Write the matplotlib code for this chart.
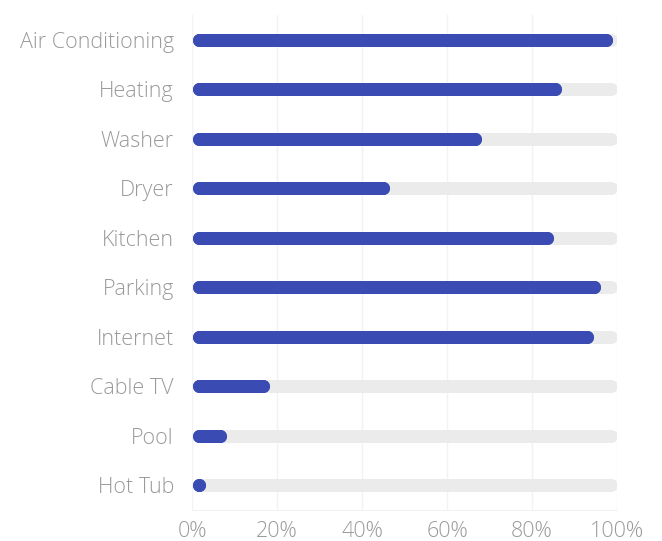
import matplotlib
matplotlib.use('Agg')
import matplotlib.pyplot as plt

categorias = ['Air Conditioning', 'Heating', 'Washer', 'Dryer', 'Kitchen',
              'Parking', 'Internet', 'Cable TV', 'Pool', 'Hot Tub']
valores = [99, 87, 68, 46.5, 85, 96.2, 94.4, 18.2, 8, 2.6]
ticks = [0, 20, 40, 60, 80, 100]
etiquetas = ['0%', '20%', '40%', '60%', '80%', '100%']

azul = '#3a4bb3'
gris_pista = '#ebebeb'
gris_texto = '#9a9a9a'

plt.rcParams['font.family'] = ['Open Sans', 'DejaVu Sans']

W, H, dpi = 662, 541, 100
fig = plt.figure(figsize=(W / dpi, H / dpi), dpi=dpi)
x0, x1, y_top, y_bot = 192, 617, 15, 510
ax = fig.add_axes([x0 / W, (H - y_bot) / H, (x1 - x0) / W, (y_bot - y_top) / H])

ax.set_xlim(0, 100)
ax.set_ylim(len(categorias) - 0.5, -0.5)

# grosor de barra en px -> pt, y radio del extremo redondeado en unidades de datos
grosor_px = 13
lw = grosor_px * 72 / dpi
px_por_unidad = (x1 - x0) / 100
r = (grosor_px / 2) / px_por_unidad

for i, v in enumerate(valores):
    ax.plot([r, 100 - r], [i, i], color=gris_pista, lw=lw,
            solid_capstyle='round', zorder=2)
    fin = max(v - r, r)
    ax.plot([r, fin], [i, i], color=azul, lw=lw, solid_capstyle='round',
            marker='o', ms=lw, mew=0, zorder=3)

ax.set_xticks(ticks)
ax.set_xticklabels(etiquetas, fontweight='light')
ax.set_yticks(range(len(categorias)))
ax.set_yticklabels(categorias, fontweight='light')
ax.tick_params(axis='x', length=0, pad=8, labelsize=15.5, labelcolor=gris_texto)
ax.tick_params(axis='y', length=0, pad=13, labelsize=15.5, labelcolor=gris_texto)

ax.grid(True, axis='x', color='#f2f2f2', lw=1, zorder=0)
for s in ['top', 'right', 'left']:
    ax.spines[s].set_visible(False)
ax.spines['bottom'].set_color('#f2f2f2')

fig.savefig('out.png', dpi=dpi)
